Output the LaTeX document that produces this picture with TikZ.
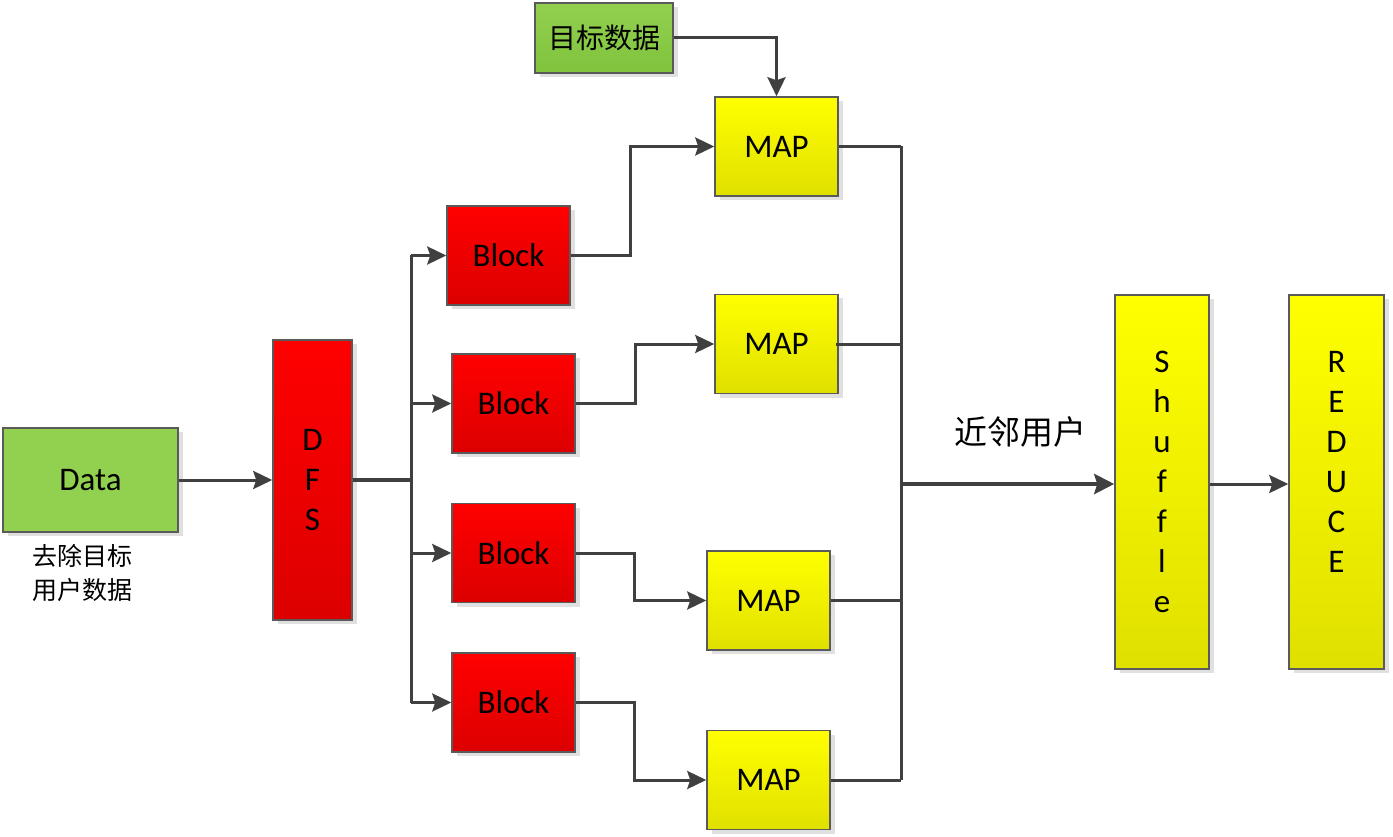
\documentclass[tikz,border=0pt]{standalone}
\usepackage{fontspec}
\setmainfont{Carlito}
\newfontfamily\cjk{Noto Sans CJK SC}
\usepackage{tikz}
\usetikzlibrary{positioning, arrows.meta, shadows}

\definecolor{boxline}{HTML}{5A5A5A}
\definecolor{linkgray}{HTML}{404040}
\definecolor{leafgreen}{HTML}{92D050}
\definecolor{leafdark}{HTML}{80C33C}
\definecolor{redtop}{HTML}{FF0000}
\definecolor{redbottom}{HTML}{DC0000}
\definecolor{yellowtop}{HTML}{FFFF00}
\definecolor{yellowbottom}{HTML}{E0E000}

\begin{document}
\begin{tikzpicture}[x=1pt, y=-1pt,
    box/.style={draw=boxline, line width=1.5pt, inner sep=0pt,
      drop shadow={shadow xshift=5pt, shadow yshift=-4pt, fill=black!12, opacity=1}},
    greenbox/.style={box, fill=leafgreen},
    redbox/.style={box, top color=redtop, bottom color=redbottom},
    yellowbox/.style={box, top color=yellowtop, bottom color=yellowbottom},
    blocknode/.style={redbox, minimum width=123pt, minimum height=99pt, font=\fontsize{33}{40}\selectfont},
    mapnode/.style={yellowbox, minimum width=123pt, minimum height=99pt, font=\fontsize{33}{40}\selectfont},
    vtext/.style={align=center, font=\fontsize{33}{40}\selectfont},
    link/.style={draw=linkgray, line width=3pt, -{Stealth[length=19pt, width=18pt, inset=3pt]}},
    wire/.style={draw=linkgray, line width=3pt},
    bus/.style={draw=linkgray, line width=4.5pt}]

    \useasboundingbox (0,0) rectangle (1393,837);

    \node [greenbox, minimum width=175pt, minimum height=104pt, font=\fontsize{33}{40}\selectfont] (data) at (90.5,480) {Data};
    \node [below=8pt of data, xshift=-8pt, align=center, font=\cjk\fontsize{25}{34}\selectfont] (datanote) {去除目标\\用户数据};

    \node [redbox, minimum width=79pt, minimum height=280pt, vtext] (dfs) at (312.5,480) {D\\F\\S};

    \node [blocknode] (block1) at (508.5,255.5) {Block};
    \node [blocknode] (block2) at (513.5,403.5) {Block};
    \node [blocknode, below=49pt of block2] (block3) {Block};
    \node [blocknode, below=49pt of block3] (block4) {Block};

    \node [greenbox, top color=leafgreen, bottom color=leafdark, minimum width=138pt, minimum height=70pt, font=\cjk\fontsize{28}{30}\selectfont] (target) at (604,38) {目标数据};

    \node [mapnode] (map1) at (776.5,146.5) {MAP};
    \node [mapnode] (map2) at (776.5,344) {MAP};
    \node [mapnode] (map3) at (768.5,600.5) {MAP};
    \node [mapnode, below=79pt of map3] (map4) {MAP};

    \node [yellowbox, minimum width=94pt, minimum height=374pt, vtext] (shuffle) at (1162,482) {S\\h\\u\\f\\f\\l\\e};
    \node [yellowbox, minimum width=95pt, minimum height=374pt] (reduce) at (1336.5,482) {};
    \node [vtext] (reducetext) at ([yshift=20pt]reduce.center) {R\\E\\D\\U\\C\\E};

    \node [font=\cjk\fontsize{33}{36}\selectfont] (neighbour) at (1020,432) {近邻用户};

    \coordinate (split) at (411,480);
    \coordinate (merge) at (901,484);

    \draw [link] (data) -- (dfs);
    \draw [bus] (dfs.east) -- (split);
    \draw [wire] (split |- block1.west) -- (split |- block4.west);
    \draw [link] (split |- block1.west) -- (block1.west);
    \draw [link] (split |- block2.west) -- (block2.west);
    \draw [link] (split |- block3.west) -- (block3.west);
    \draw [link] (split |- block4.west) -- (block4.west);

    \draw [link] (block1.east) -- ++(60,0) |- (map1.west);
    \draw [link] (block2.east) -- ++(60,0) |- (map2.west);
    \draw [link] (block3.east) -- ++(59,0) |- (map3.west);
    \draw [link] (block4.east) -- ++(59,0) |- (map4.west);

    \draw [link] (target.east) -| (map1.north);

    \draw [wire] (map1.east) -- (merge |- map1.east);
    \draw [wire] ([xshift=-3pt]map2.east) -- (merge |- map2.east);
    \draw [wire] (map3.east) -- (merge |- map3.east);
    \draw [wire] (map4.east) -- (merge |- map4.east);
    \draw [wire] (merge |- map1.east) -- (merge |- map4.east);
    \draw [bus, -{Stealth[length=20pt, width=20pt, inset=3pt]}] (merge) -- (merge -| shuffle.west);

    \draw [link] (shuffle.east |- merge) -- (reduce.west |- merge);
\end{tikzpicture}
\end{document}
